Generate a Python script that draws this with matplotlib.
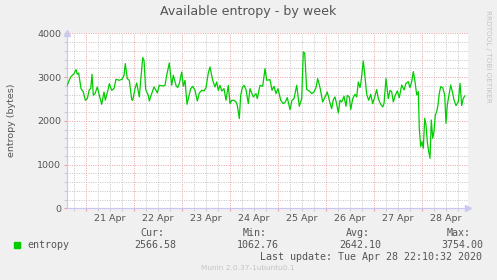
import numpy as np
import matplotlib
matplotlib.use("Agg")
import matplotlib.pyplot as plt
import matplotlib.transforms as mtransforms
from matplotlib.ticker import MultipleLocator

# hours since 21 Apr 2020 00:00
hours = [-9.5, -7.5, -5.85, -4.85, -4.2, -3.5, -2.35, -1.2, -0.2, 0.8, 1.8, 2.5, 3.15, 3.8, 4.65,
         5.8, 6.8, 8.0, 9.15, 9.8, 11.3, 11.8, 13.0, 14.15, 15.15, 16.8, 18.15, 19.15, 19.8, 20.8,
         21.8, 23.0, 23.5, 24.65, 25.5, 26.8, 28.5, 29.15, 30.0, 31.3, 31.8, 33.0, 34.15, 35.15,
         35.8, 36.8, 38.8, 39.65, 40.5, 41.8, 43.0, 43.8, 45.15, 46.0, 46.8, 48.0, 48.8, 49.65,
         50.65, 51.5, 52.5, 53.5, 54.65, 55.8, 56.8, 58.0, 59.15, 60.15, 61.3, 62.15, 63.5, 64.65,
         65.5, 66.3, 67.15, 68.0, 69.15, 70.15, 71.3, 72.15, 73.0, 74.15, 75.15, 75.8, 76.8, 77.5,
         78.3, 79.15, 80.15, 81.3, 82.15, 83.8, 85.15, 85.8, 87.15, 88.5, 89.65, 90.5, 92.15, 93.15,
         94.15, 95.15, 96.15, 97.5, 98.8, 99.8, 100.8, 102.15, 103.15, 104.15, 105.5, 106.8, 108.0,
         108.8, 109.5, 110.5, 111.8, 113.0, 114.15, 115.15, 116.0, 117.15, 118.5, 119.65, 120.8,
         122.15, 123.0, 123.8, 124.65, 125.5, 126.3, 127.15, 128.0, 129.15, 130.15, 130.8, 131.8,
         132.5, 133.5, 134.65, 135.5, 136.3, 137.15, 137.65, 138.8, 139.65, 140.5, 141.5, 142.5,
         143.5, 144.5, 145.5, 146.3, 147.5, 148.5, 149.15, 150.15, 151.3, 152.15, 153.0, 153.8,
         154.8, 155.8, 156.8, 158.0, 159.15, 160.15, 161.3, 162.15, 163.0, 163.8, 164.65, 165.5,
         166.3, 166.8, 167.5, 168.15, 168.8, 169.5, 170.15, 170.8, 171.5, 172.15, 172.8, 173.5,
         174.15, 174.8, 175.5, 176.15, 176.8, 177.5, 178.5, 179.5, 180.15, 180.8, 181.8, 182.5,
         183.5, 184.15, 185.15, 186.3, 187.15, 188.0, 188.8, 189.5]
entropy = [2789, 3002, 3078, 3170, 3063, 3093, 2735, 2660, 2469, 2507, 2713, 2735, 3063, 2583, 2621,
           2773, 2583, 2377, 2659, 2469, 2735, 2850, 2697, 2735, 2949, 2926, 2949, 3040, 3307, 2964,
           2926, 2484, 2469, 2735, 2865, 2545, 3444, 3383, 2713, 2583, 2453, 2621, 2773, 2697,
           2636, 2811, 2796, 2811, 3040, 3322, 2811, 3040, 2811, 2758, 2850, 3116, 2789, 2926,
           2377, 2545, 2735, 2789, 2697, 2453, 2636, 2697, 2682, 2758, 3093, 3230, 2926, 2773,
           2888, 2697, 2811, 2682, 2735, 2469, 2811, 2392, 2469, 2469, 2430, 2354, 2050, 2583,
           2758, 2811, 2713, 2392, 2735, 2545, 2621, 2507, 2811, 2789, 3193, 2926, 2941, 2697,
           2789, 2621, 2735, 2469, 2392, 2430, 2530, 2256, 2469, 2507, 2811, 2331, 2507,
           3573, 3550, 2713, 2682, 2621, 2659, 2758, 2964, 2758, 2430, 2545, 2659,
           2407, 2278, 2484, 2545, 2377, 2179, 2469, 2430, 2560, 2331, 2583, 2545,
           2256, 2507, 2606, 2545, 2888, 2758, 2888, 3368, 3002, 2606, 2469, 2606,
           2392, 2545, 2713, 2507, 2377, 2316, 2392, 2964, 2507, 2697, 2659, 2430,
           2583, 2682, 2530, 2819, 2705, 2857, 2895, 2758, 2895, 3124, 2895, 2590,
           2667, 1829, 1410, 1524, 1371, 2057, 1905, 1524, 1296, 1143, 2018, 1600,
           1752, 2133, 2210, 2362, 2629, 2781, 2758, 2590, 1943, 2362, 2629, 2819,
           2629, 2476, 2347, 2438, 2857, 2347, 2514, 2567]

day_labels = ['21 Apr', '22 Apr', '23 Apr', '24 Apr', '25 Apr', '26 Apr', '27 Apr', '28 Apr']
stats_head = ['Cur:', 'Min:', 'Avg:', 'Max:']
stats_vals = ['2566.58', '1062.76', '2642.10', '3754.00']

bg = '#F0F0F0'
txt = '#555555'
axis_col = '#C8C8F2'

fig = plt.figure(figsize=(4.97, 2.80), dpi=100, facecolor=bg)
ax = fig.add_axes([66.7 / 497, 1 - 208.3 / 280, 401.3 / 497, 175 / 280])
ax.set_facecolor('white')

ax.plot(hours, entropy, color='#00CC00', lw=0.9, zorder=3)

ax.set_xlim(-9.5, 191.15)
ax.set_ylim(0, 4000)

# grid: major red at days / 1000, minor grey every 6 h / 200
ax.xaxis.set_major_locator(MultipleLocator(24))
ax.xaxis.set_minor_locator(MultipleLocator(6))
ax.yaxis.set_major_locator(MultipleLocator(1000))
ax.yaxis.set_minor_locator(MultipleLocator(200))
ax.grid(which='minor', color='#C4C4C4', ls=(0, (1, 1.4)), lw=0.7, zorder=1)
ax.grid(which='major', color='#EBA0A0', ls=(0, (1, 1.4)), lw=0.7, zorder=2)
ax.set_xticklabels([])
ax.tick_params(which='both', axis='x', length=2.5, color='#EBA0A0', direction='out', pad=0)
ax.tick_params(which='minor', axis='x', color='#C4C4C4')
ax.tick_params(which='both', axis='y', length=2, color='#EBA0A0', labelsize=6.8,
               labelcolor=txt, pad=2)
ax.tick_params(which='minor', axis='y', color='#C4C4C4')

for s in ['top', 'right']:
    ax.spines[s].set_visible(False)
for s in ['left', 'bottom']:
    ax.spines[s].set_color(axis_col)
    ax.spines[s].set_linewidth(0.9)
ax.plot(1.0, 0, marker='>', ms=4, color=axis_col, transform=ax.transAxes, clip_on=False)
ax.plot(0, 1.0, marker='^', ms=4, color=axis_col, transform=ax.transAxes, clip_on=False)

# day labels at noon
trans = mtransforms.blended_transform_factory(ax.transData, ax.transAxes)
for i, lab in enumerate(day_labels):
    ax.text(12 + 24 * i, -0.035, lab, transform=trans, ha='center', va='top',
            fontsize=6.8, color=txt)

fig.text(248 / 497, 1 - 12 / 280, 'Available entropy - by week', ha='center', va='center',
         fontsize=9.1, color=txt)
fig.text(12 / 497, 1 - 120 / 280, 'entropy (bytes)', rotation=90, ha='center', va='center',
         fontsize=6.8, color=txt)
fig.text(488 / 497, 1 - 56 / 280, 'RRDTOOL / TOBI OETIKER', rotation=270, ha='center',
         va='center', fontsize=5.2, color='#C4C4C4')

mono = 'DejaVu Sans Mono'
fig.patches.append(plt.Rectangle((14 / 497, 1 - 248 / 280), 6 / 497, 6 / 280,
                                 transform=fig.transFigure, color='#00CC00'))
fig.text(27 / 497, 1 - 245 / 280, 'entropy', family=mono, fontsize=7.2, color=txt,
         ha='left', va='center')
head_x = [140, 243, 346, 447]
val_x = [134, 237, 339, 441]
for hx, vx, h, v in zip(head_x, val_x, stats_head, stats_vals):
    fig.text(hx / 497, 1 - 232.5 / 280, h, family=mono, fontsize=7.2, color=txt,
             ha='left', va='center')
    fig.text(vx / 497, 1 - 245 / 280, v, family=mono, fontsize=7.2, color=txt,
             ha='left', va='center')
fig.text(482 / 497, 1 - 257 / 280, 'Last update: Tue Apr 28 22:10:32 2020', family=mono,
         fontsize=7.2, color=txt, ha='right', va='center')
fig.text(248 / 497, 1 - 268 / 280, 'Munin 2.0.37-1ubuntu0.1', ha='center', va='center',
         fontsize=5.3, color='#C4C4C4')

fig.savefig('out.png', dpi=100, facecolor=bg)
